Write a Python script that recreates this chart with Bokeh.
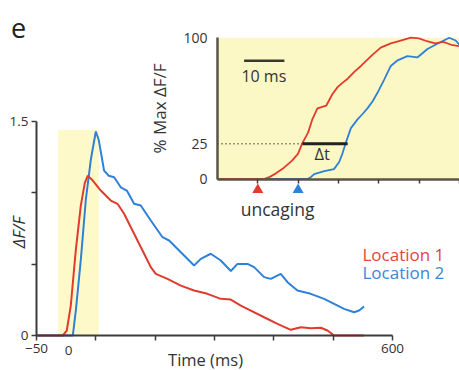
import numpy as np
from bokeh.plotting import figure
from bokeh.models import Range1d, LinearAxis, FixedTicker, Label
from bokeh.embed import file_html
from bokeh.resources import INLINE

# ---------------- data ----------------
# main panel: time (ms) vs dF/F
red_t = [-50, -2, 5.3, 12.6, 21.8, 30.9, 38.2, 43.7, 52.8, 67.4, 85.7, 97.9, 109.9, 128.2,
         146.5, 158.7, 167.8, 189.2, 213.5, 237.7, 262.2, 286.5, 304.8, 323.0, 341.3, 365.6,
         390.0, 414.3, 432.6, 450.8, 469.1, 481.3, 493.4, 547.6]
red_v = [0, 0, 0.035, 0.21, 0.60, 0.91, 1.07, 1.12, 1.086, 1.016, 0.946, 0.923, 0.853, 0.713,
         0.573, 0.479, 0.432, 0.397, 0.350, 0.315, 0.292, 0.257, 0.252, 0.210, 0.175, 0.128,
         0.082, 0.040, 0.058, 0.051, 0.054, 0.035, 0.0, 0.0]
blue_t = [-50, 16.3, 21.8, 30.9, 40.0, 49.1, 58.3, 63.7, 73.4, 82.0, 91.7, 103.9, 114.9, 128.2,
          140.4, 158.7, 180.1, 192.1, 213.5, 237.7, 250.0, 268.2, 286.5, 304.8, 317.0, 335.3,
          347.3, 365.6, 377.8, 396.0, 408.3, 426.5, 450.8, 475.1, 493.4, 511.6, 529.9, 539.0, 548.1]
blue_v = [0, 0, 0.175, 0.53, 0.95, 1.23, 1.43, 1.37, 1.156, 1.12, 1.109, 1.039, 1.016, 0.923,
          0.911, 0.806, 0.689, 0.666, 0.584, 0.491, 0.537, 0.573, 0.526, 0.452, 0.502, 0.502,
          0.479, 0.409, 0.397, 0.432, 0.374, 0.315, 0.292, 0.257, 0.222, 0.187, 0.163, 0.175, 0.203]
highlight = (-11, 63.7, 1.44)          # shaded window (start ms, end ms, top)

# inset: time (ms) vs % of max dF/F
in_red_t = [0, 11.5, 13, 14.5, 16.5, 18.5, 20, 21, 22.5, 23.5, 24.8, 27, 28.5, 29.8, 31, 32.3,
            34, 35.6, 37, 38.5, 40.5, 43, 45, 48, 50, 52, 54, 56, 58, 60]
in_red_v = [0, 0, 1.5, 4, 8, 13, 18, 25, 33, 42, 50, 52, 60, 65, 68, 71,
            76, 80, 84, 88, 93, 96, 97.5, 100, 99.5, 97.5, 96, 97, 95, 94]
in_blue_t = [0, 22.3, 23, 24, 26.5, 28.9, 30.2, 31, 32, 33.1, 34.7, 36, 37.2, 38.5, 39.7, 41.3,
             43, 44.7, 47.1, 49.6, 52.1, 55.4, 57.5, 59.1, 60]
in_blue_v = [0, 0, 1, 3.5, 5.5, 7, 12, 18, 27, 36, 42, 46, 50, 55, 61, 70,
             80, 84, 87, 86, 92, 97, 100, 98, 95]
uncaging_t = [10, 20]
level = 25
red_cross, blue_cross = 21.1, 32.3
scalebar = (6.6, 16.6, 83.7)

RED = "#e23a2c"
BLUE = "#2f80d8"
AX = "#3c3c3c"
FONT = "Open Sans"

# ---------------- layout (frame = whole canvas) ----------------
W, H = 459, 370
sx = (392 - 36) / 650.0
sy = (335 - 121) / 1.5
x_start = -50 - 36 / sx
x_end = -50 + (W - 36) / sx
y_start = -(H - 335) / sy
y_end = 335 / sy
isx, ix0 = 4.03, 217
isy, iy0 = 1.413, 178.5
ix_start = -ix0 / isx
ix_end = (W - ix0) / isx
iy_start = -(H - iy0) / isy
iy_end = iy0 / isy

p = figure(width=W, height=H, x_range=Range1d(x_start, x_end), y_range=Range1d(y_start, y_end),
           output_backend="svg", toolbar_location=None, x_axis_type=None, y_axis_type=None,
           min_border_left=0, min_border_right=0, min_border_top=0, min_border_bottom=0,
           title=None)
p.outline_line_color = None
p.background_fill_color = "white"
p.border_fill_color = "white"
p.extra_x_ranges = {"ix": Range1d(ix_start, ix_end)}
p.extra_y_ranges = {"iy": Range1d(iy_start, iy_end)}

# main panel
p.quad(left=[highlight[0]], right=[highlight[1]], bottom=[0], top=[highlight[2]],
       fill_color="#fdf9c9", line_color=None)
p.line(blue_t, blue_v, line_color=BLUE, line_width=2)
p.line(red_t, red_v, line_color=RED, line_width=2)

def style_axis(ax, size="13.5px"):
    ax.axis_line_color = AX
    ax.axis_line_width = 2
    ax.major_tick_line_color = AX
    ax.minor_tick_line_color = AX
    ax.major_tick_line_width = 1.5
    ax.minor_tick_line_width = 1.5
    ax.major_tick_in = 0
    ax.minor_tick_in = 0
    ax.major_label_text_font = FONT
    ax.major_label_text_font_size = size
    ax.major_label_text_color = "#333333"
    ax.axis_label_text_font = FONT
    ax.axis_label_text_font_style = "normal"
    ax.axis_label_text_color = "#333333"

yax = LinearAxis(fixed_location=-50,
                 ticker=FixedTicker(ticks=[0, 1.5], minor_ticks=[0.5, 1.0]), bounds=(0, 1.5))
style_axis(yax)
yax.major_tick_out = 5
yax.minor_tick_out = 5
yax.major_label_standoff = 3
p.add_layout(yax, "left")

xax = LinearAxis(fixed_location=0,
                 ticker=FixedTicker(ticks=[-50, 600], minor_ticks=[58.3, 166.7, 275, 383.3, 491.7]),
                 bounds=(-50, 600))
style_axis(xax)
xax.major_tick_out = 5
xax.minor_tick_out = 5
xax.major_label_standoff = 3
p.add_layout(xax, "below")

def label(x, y, text, size="13.5px", color="#333333", angle=0, align="center", style="normal",
          inset=False):
    kw = dict(x_range_name="ix", y_range_name="iy") if inset else {}
    p.add_layout(Label(x=x, y=y, text=text, text_font=FONT, text_font_size=size,
                       text_color=color, angle=angle, text_align=align, text_baseline="middle",
                       text_font_style=style, **kw))

label(8.4, -0.105, "0")
label(258.6, -0.168, "Time (ms)", size="16.5px")
label(-82.9, 0.722, "\u0394F/F", size="17px", angle=np.pi / 2, style="italic")
label(545.2, 0.568, "Location 1", size="17px", color="#e2463b", align="left")
label(545.2, 0.442, "Location 2", size="17px", color="#3a86d8", align="left")
label(-82.9, 2.152, "e", size="27px", color="#222222")

# inset panel
p.quad(left=[0], right=[ix_end], bottom=[0], top=[100], fill_color="#fcf8c6", line_color=None,
       x_range_name="ix", y_range_name="iy")
p.segment(x0=[0], y0=[level], x1=[red_cross], y1=[level], line_color="#333333",
          line_width=1.4, line_dash="1 3", x_range_name="ix", y_range_name="iy")
p.line(in_blue_t, in_blue_v, line_color=BLUE, line_width=1.8, x_range_name="ix", y_range_name="iy")
p.line(in_red_t, in_red_v, line_color=RED, line_width=1.8, x_range_name="ix", y_range_name="iy")
p.segment(x0=[red_cross], y0=[level], x1=[blue_cross], y1=[level], line_color="#222222",
          line_width=3, x_range_name="ix", y_range_name="iy")
p.segment(x0=[scalebar[0]], y0=[scalebar[2]], x1=[scalebar[1]], y1=[scalebar[2]],
          line_color="#3a3a2a", line_width=2.5, x_range_name="ix", y_range_name="iy")
p.scatter(uncaging_t, [-7.6, -7.6], marker="triangle", size=11, fill_color=[RED, BLUE],
          line_color=None, x_range_name="ix", y_range_name="iy")

iyax = LinearAxis(x_range_name="ix", y_range_name="iy", fixed_location=0,
                  ticker=FixedTicker(ticks=[0, 25, 100]), bounds=(0, 100),
                  axis_label="% Max \u0394F/F")
style_axis(iyax, size="14px")
iyax.axis_line_color = "#5a5548"
iyax.axis_line_width = 2.5
iyax.major_tick_out = 0
iyax.major_label_standoff = 10
iyax.axis_label_standoff = 9
iyax.axis_label_text_font_size = "17px"
p.add_layout(iyax, "left")

ixax = LinearAxis(x_range_name="ix", y_range_name="iy", fixed_location=0,
                  ticker=FixedTicker(ticks=[], minor_ticks=[10, 20, 30, 40, 50, 60]),
                  bounds=(0, ix_end))
style_axis(ixax)
ixax.axis_line_color = "#5a5548"
ixax.axis_line_width = 2.5
ixax.minor_tick_out = 4
ixax.minor_tick_line_color = "#3c3c3c"
p.add_layout(ixax, "below")

label(14.9, -21, "uncaging", size="17.5px", inset=True)
label(26.0, 17.7, "\u0394t", size="16.5px", inset=True)
label(11.5, 73.1, "10 ms", size="16px", inset=True)

open("out.html", "w").write(file_html(p, INLINE))
